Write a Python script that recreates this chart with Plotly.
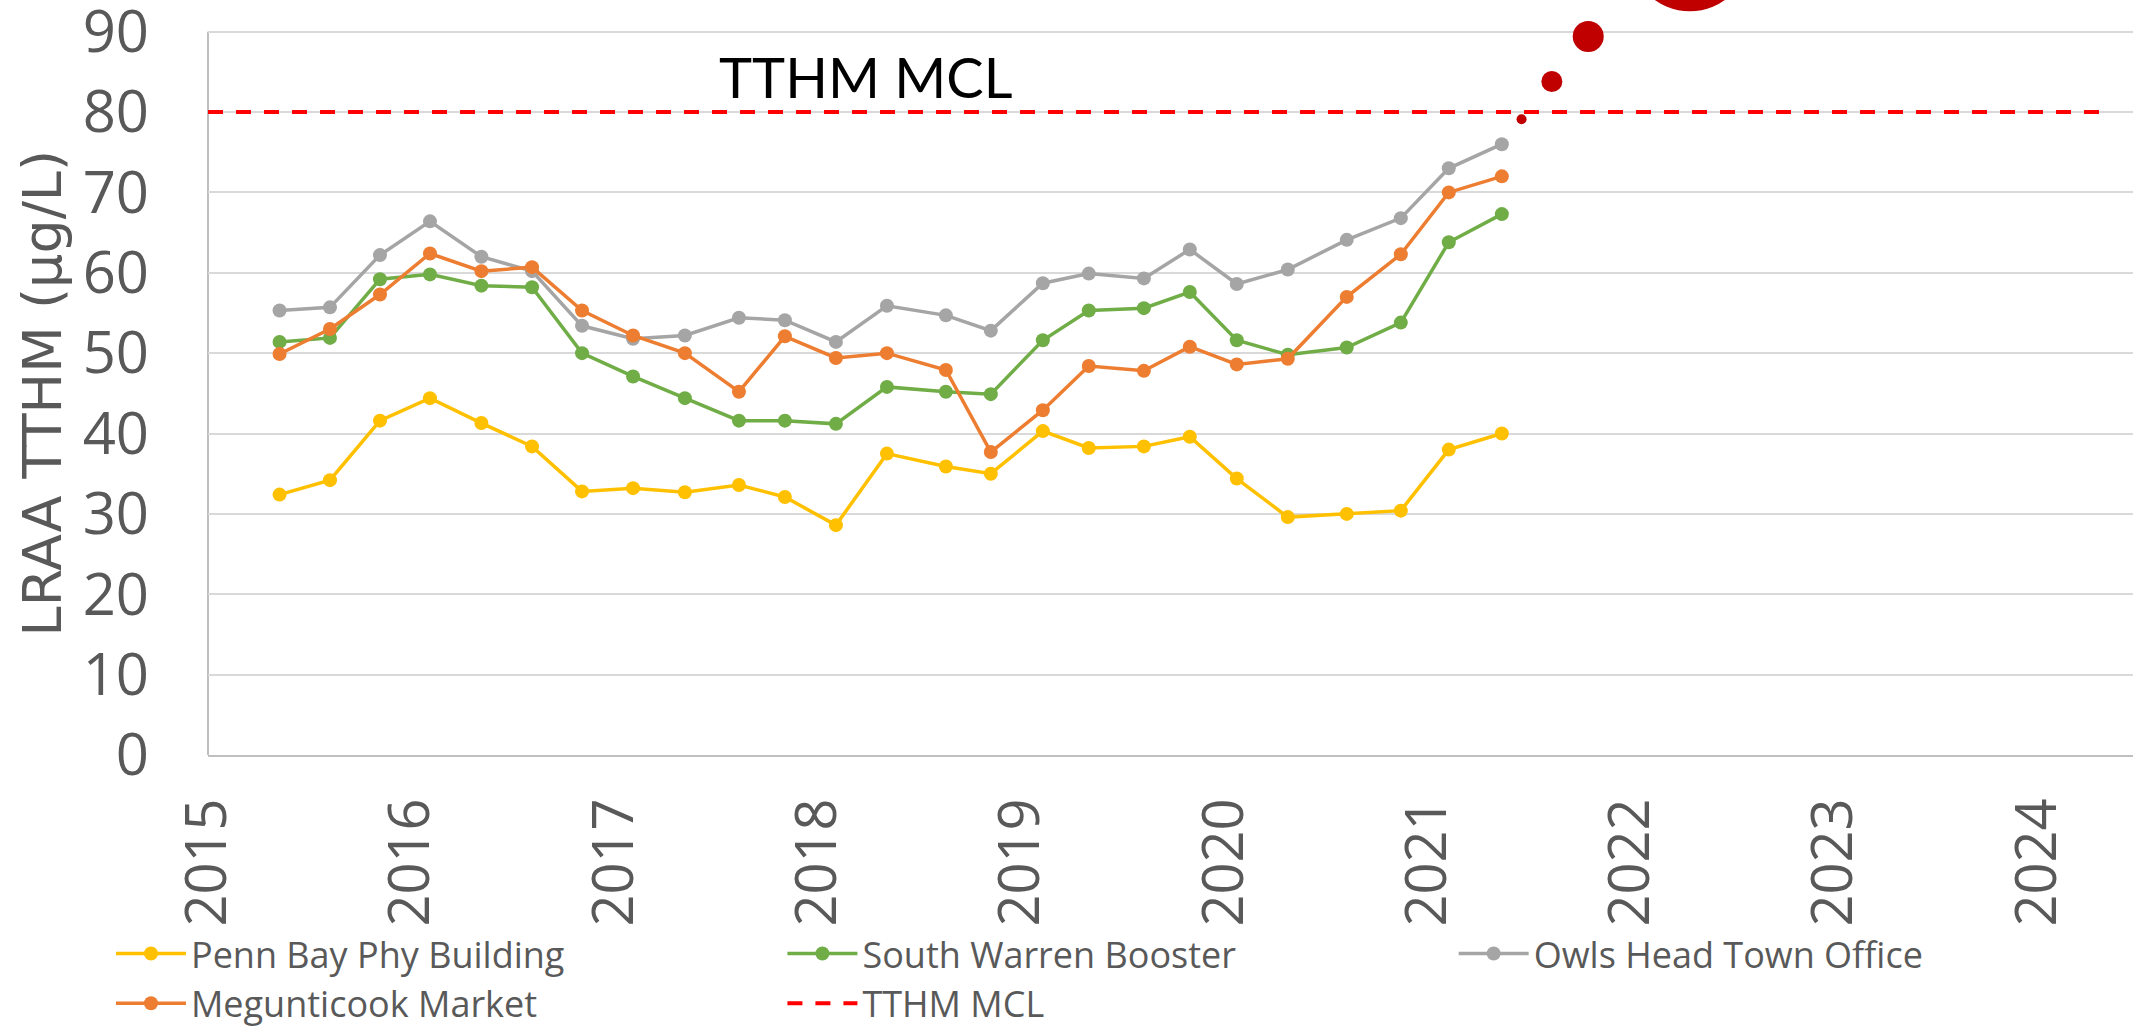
import plotly.graph_objects as go

# ---- data ----
dates = [2015.352, 2015.600, 2015.846, 2016.092, 2016.345, 2016.594, 2016.840,
         2017.091, 2017.346, 2017.612, 2017.838, 2018.089, 2018.340, 2018.630,
         2018.851, 2019.107, 2019.333, 2019.604, 2019.830, 2020.061, 2020.312,
         2020.602, 2020.868, 2021.104, 2021.365]
penn_bay = [32.4, 34.2, 41.6, 44.4, 41.3, 38.4, 32.8, 33.2, 32.7, 33.6, 32.1, 28.6,
            37.5, 35.9, 35.0, 40.3, 38.2, 38.4, 39.6, 34.4, 29.6, 30.0, 30.4, 38.0, 40.0]
south_warren = [51.4, 51.9, 59.2, 59.8, 58.4, 58.2, 50.0, 47.1, 44.4, 41.6, 41.6, 41.2,
                45.8, 45.2, 44.9, 51.6, 55.3, 55.6, 57.6, 51.6, 49.8, 50.7, 53.8, 63.8, 67.3]
owls_head = [55.3, 55.7, 62.2, 66.4, 62.0, 60.2, 53.4, 51.8, 52.2, 54.4, 54.1, 51.4,
             55.9, 54.7, 52.8, 58.7, 59.9, 59.3, 62.9, 58.6, 60.4, 64.1, 66.8, 73.0, 76.0]
megunticook = [49.9, 53.0, 57.3, 62.4, 60.2, 60.7, 55.3, 52.2, 50.0, 45.2, 52.1, 49.4,
               50.0, 47.9, 37.7, 42.9, 48.4, 47.8, 50.8, 48.6, 49.3, 57.0, 62.3, 70.0, 72.0]

mcl_years = [2015.0, 2024.306]
mcl_values = [80, 80]

bubble_x = [2021.462, 2021.611, 2021.790, 2022.290]
bubble_y = [79.1, 83.8, 89.4, 100.0]
bubble_size = [10, 21, 31, 120]

year_ticks = [2015, 2016, 2017, 2018, 2019, 2020, 2021, 2022, 2023, 2024]
year_labels = [str(y) for y in year_ticks]
y_ticks = [0, 10, 20, 30, 40, 50, 60, 70, 80, 90]

series = [
    ("Penn Bay Phy Building", penn_bay, "#FFC000", "legend"),
    ("South Warren Booster", south_warren, "#70AD47", "legend2"),
    ("Owls Head Town Office", owls_head, "#A5A5A5", "legend3"),
    ("Megunticook Market", megunticook, "#ED7D31", "legend4"),
]

FONT = "Open Sans"
GRAY_TXT = "#595959"

fig = go.Figure()
for name, vals, col, lg in series:
    fig.add_trace(go.Scatter(
        x=dates, y=vals, name=name, mode="lines+markers", legend=lg,
        line=dict(color=col, width=3.5),
        marker=dict(color=col, size=14),
    ))

fig.add_trace(go.Scatter(
    x=mcl_years, y=mcl_values, name="TTHM MCL", mode="lines", legend="legend5",
    line=dict(color="#FF0000", width=4, dash="15px,13px"),
))

fig.add_trace(go.Scatter(
    x=bubble_x, y=bubble_y, mode="markers", showlegend=False,
    marker=dict(color="#C00000", size=bubble_size, opacity=1, line=dict(width=0)),
    cliponaxis=True,
))

fig.add_annotation(
    x=2018.234, y=84.4, xref="x", yref="y", text="TTHM MCL", showarrow=False,
    font=dict(family="Lato", size=56, color="#000000"),
)
fig.add_annotation(
    x=-0.0862, y=45, xref="paper", yref="y", text="LRAA TTHM (µg/L)", showarrow=False,
    textangle=-90, xanchor="center", yanchor="middle",
    font=dict(family="DejaVu Sans", size=54, color=GRAY_TXT),
)
# vertical value-axis line (stops at the top of the value scale)
fig.add_shape(type="line", xref="x domain", x0=0, x1=0, yref="y", y0=0, y1=y_ticks[-1],
              line=dict(color="#BFBFBF", width=2), layer="below")

leg_common = dict(orientation="v", xanchor="left", yanchor="middle",
                  bgcolor="rgba(0,0,0,0)", itemwidth=70,
                  font=dict(family=FONT, size=36, color=GRAY_TXT))
col_x = [-0.0504, 0.2984, 0.6471]
row_y = [-0.2630, -0.3290]

fig.update_layout(
    width=2133, height=1027,
    margin=dict(l=208, r=0, t=0, b=272, autoexpand=False),
    paper_bgcolor="white", plot_bgcolor="white",
    font=dict(family=FONT, color=GRAY_TXT),
    showlegend=True,
    legend=dict(x=col_x[0], y=row_y[0], **leg_common),
    legend2=dict(x=col_x[1], y=row_y[0], **leg_common),
    legend3=dict(x=col_x[2], y=row_y[0], **leg_common),
    legend4=dict(x=col_x[0], y=row_y[1], **leg_common),
    legend5=dict(x=col_x[1], y=row_y[1], **leg_common),
)

fig.update_xaxes(
    range=[2015, 2024.47], tickmode="array", tickvals=year_ticks, ticktext=year_labels,
    tickangle=-90, tickfont=dict(family=FONT, size=56, color=GRAY_TXT),
    showgrid=False, zeroline=False, showline=True, linecolor="#BFBFBF", linewidth=2,
    ticks="", ticklabelstandoff=19, ticklabeloverflow="allow",
)
fig.update_yaxes(
    range=[0, 93.94], tickmode="array", tickvals=y_ticks,
    tickfont=dict(family=FONT, size=58, color=GRAY_TXT),
    showgrid=True, gridcolor="#D9D9D9", gridwidth=2,
    zeroline=False, showline=False,
    ticks="", ticklabelstandoff=58, ticklabeloverflow="allow",
)

fig.write_html("out.html", config={"displayModeBar": False},
               post_script="document.body.style.margin='0';")
